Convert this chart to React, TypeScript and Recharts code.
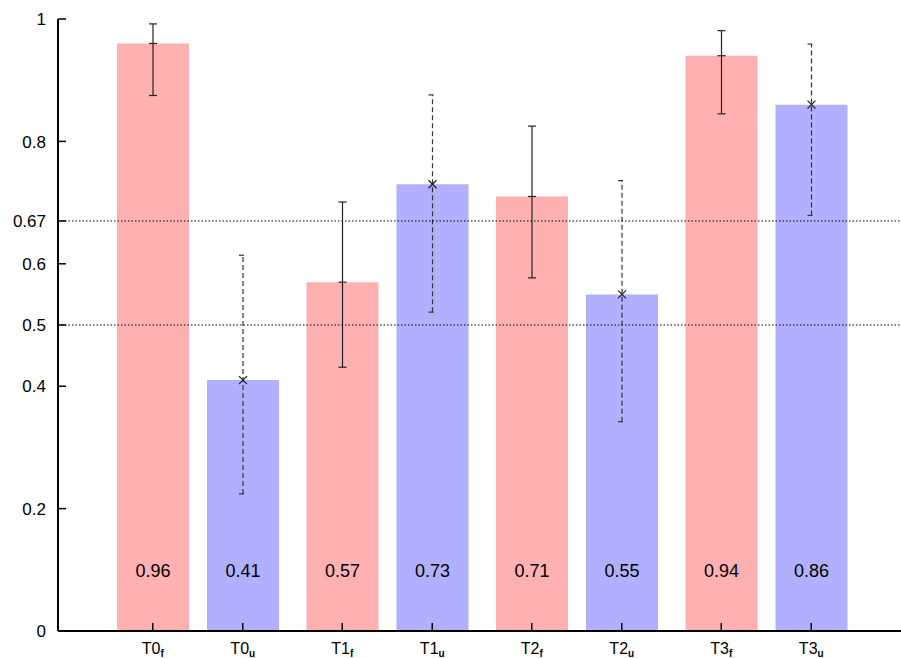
import { ComposedChart, Bar, XAxis, YAxis, ReferenceLine, ErrorBar, LabelList } from "recharts";

const GROUPS = ["T0", "T1", "T2", "T3"];
const SUBS = ["f", "u"];
const F_VALUES = [0.96, 0.57, 0.71, 0.94];
const U_VALUES = [0.41, 0.73, 0.55, 0.86];
// error bar bounds
const F_LOW = [0.875, 0.431, 0.577, 0.845];
const F_HIGH = [0.992, 0.701, 0.825, 0.981];
const U_LOW = [0.224, 0.521, 0.342, 0.679];
const U_HIGH = [0.614, 0.876, 0.736, 0.959];
const Y_TICKS = [0, 0.2, 0.4, 0.5, 0.6, 0.67, 0.8, 1];
const THRESHOLDS = [0.67, 0.5];

const W = 901;
const H = 658;
const BAR_SIZE = 72;
const BAR_GAP = 18;
const HALF = (BAR_SIZE + BAR_GAP) / 2;
const FONT = "'Liberation Sans', Arial, Helvetica, sans-serif";
const PINK = "#ffb0b0";
const BLUE = "#b0b0ff";

const data = GROUPS.map((group, i) => ({
  group,
  f: F_VALUES[i],
  u: U_VALUES[i],
  fErr: [F_VALUES[i] - F_LOW[i], F_HIGH[i] - F_VALUES[i]],
  uErr: [U_VALUES[i] - U_LOW[i], U_HIGH[i] - U_VALUES[i]],
}));

function LeftTick({ x, y, payload }: any) {
  return (
    <g>
      <line x1={x} x2={x + 8} y1={y} y2={y} stroke="#000" strokeWidth={1.5} />
      <text x={x - 12} y={y} dy="0.36em" textAnchor="end" fontFamily={FONT} fontSize={17} fill="#000">
        {payload.value}
      </text>
    </g>
  );
}

function BottomTick({ x, y, payload }: any) {
  return (
    <g>
      {SUBS.map((s, i) => {
        const cx = x + (i === 0 ? -HALF : HALF);
        return (
          <g key={s}>
            <line x1={cx} x2={cx} y1={y} y2={y - 8} stroke="#000" strokeWidth={1.5} />
            <text x={cx} y={y + 23} textAnchor="middle" fontFamily={FONT} fontSize={16} fill="#000">
              {payload.value}
              <tspan fontSize={10} fontWeight="bold" dy={3}>{s}</tspan>
            </text>
          </g>
        );
      })}
    </g>
  );
}

function TopTick({ x, y }: any) {
  return (
    <g>
      {SUBS.map((s, i) => {
        const cx = x + (i === 0 ? -HALF : HALF);
        return <line key={s} x1={cx} x2={cx} y1={y} y2={y + 8} stroke="#000" strokeWidth={1.5} />;
      })}
    </g>
  );
}

// value marker at the bar top + value text near the bottom
function makeLabel(kind: "f" | "u") {
  return function ValueLabel({ x, y, width, height, value }: any) {
    const cx = x + width / 2;
    const bottom = y + height;
    return (
      <g>
        {kind === "f" ? (
          <line x1={cx - 4} x2={cx + 4} y1={y} y2={y} stroke="#222" strokeWidth={1.2} />
        ) : (
          <g stroke="#222" strokeWidth={1.2}>
            <line x1={cx - 4} x2={cx + 4} y1={y - 4} y2={y + 4} />
            <line x1={cx - 4} x2={cx + 4} y1={y + 4} y2={y - 4} />
          </g>
        )}
        <text x={cx} y={bottom - 60} dy="0.36em" textAnchor="middle" fontFamily={FONT} fontSize={18} fill="#000">
          {value.toFixed(2)}
        </text>
      </g>
    );
  };
}

export default function App() {
  return (
    <div style={{ position: "absolute", left: 0, top: 0, width: W, height: H, background: "#fff" }}>
      <ComposedChart
        width={W}
        height={H}
        data={data}
        margin={{ top: 19, right: 0, bottom: 0, left: 0 }}
        barSize={BAR_SIZE}
        barGap={BAR_GAP}
      >
        <XAxis
          dataKey="group"
          padding={{ left: 45, right: 40 }}
          height={27}
          tickSize={0}
          tickMargin={0}
          tickLine={false}
          interval={0}
          axisLine={{ stroke: "#000", strokeWidth: 2 }}
          tick={<BottomTick />}
        />
        <XAxis
          xAxisId="top"
          orientation="top"
          dataKey="group"
          padding={{ left: 45, right: 40 }}
          height={0}
          tickSize={0}
          tickMargin={0}
          tickLine={false}
          interval={0}
          axisLine={{ stroke: "#000", strokeWidth: 2 }}
          tick={<TopTick />}
        />
        <YAxis
          width={58}
          domain={[0, 1]}
          ticks={Y_TICKS}
          interval={0}
          tickSize={0}
          tickMargin={0}
          tickLine={false}
          axisLine={{ stroke: "#000", strokeWidth: 2 }}
          tick={<LeftTick />}
        />
        <Bar dataKey="f" fill={PINK} isAnimationActive={false}>
          <ErrorBar dataKey="fErr" width={4} stroke="#222" strokeWidth={1.2} isAnimationActive={false} />
          <LabelList dataKey="f" content={makeLabel("f")} />
        </Bar>
        <Bar dataKey="u" fill={BLUE} isAnimationActive={false}>
          <ErrorBar
            dataKey="uErr"
            width={4}
            stroke="#333"
            strokeWidth={1.2}
            strokeDasharray="5 3"
            isAnimationActive={false}
          />
          <LabelList dataKey="u" content={makeLabel("u")} />
        </Bar>
        {THRESHOLDS.map((t) => (
          <ReferenceLine key={t} y={t} stroke="#000" strokeWidth={1} strokeDasharray="1.5 2" />
        ))}
      </ComposedChart>
    </div>
  );
}
